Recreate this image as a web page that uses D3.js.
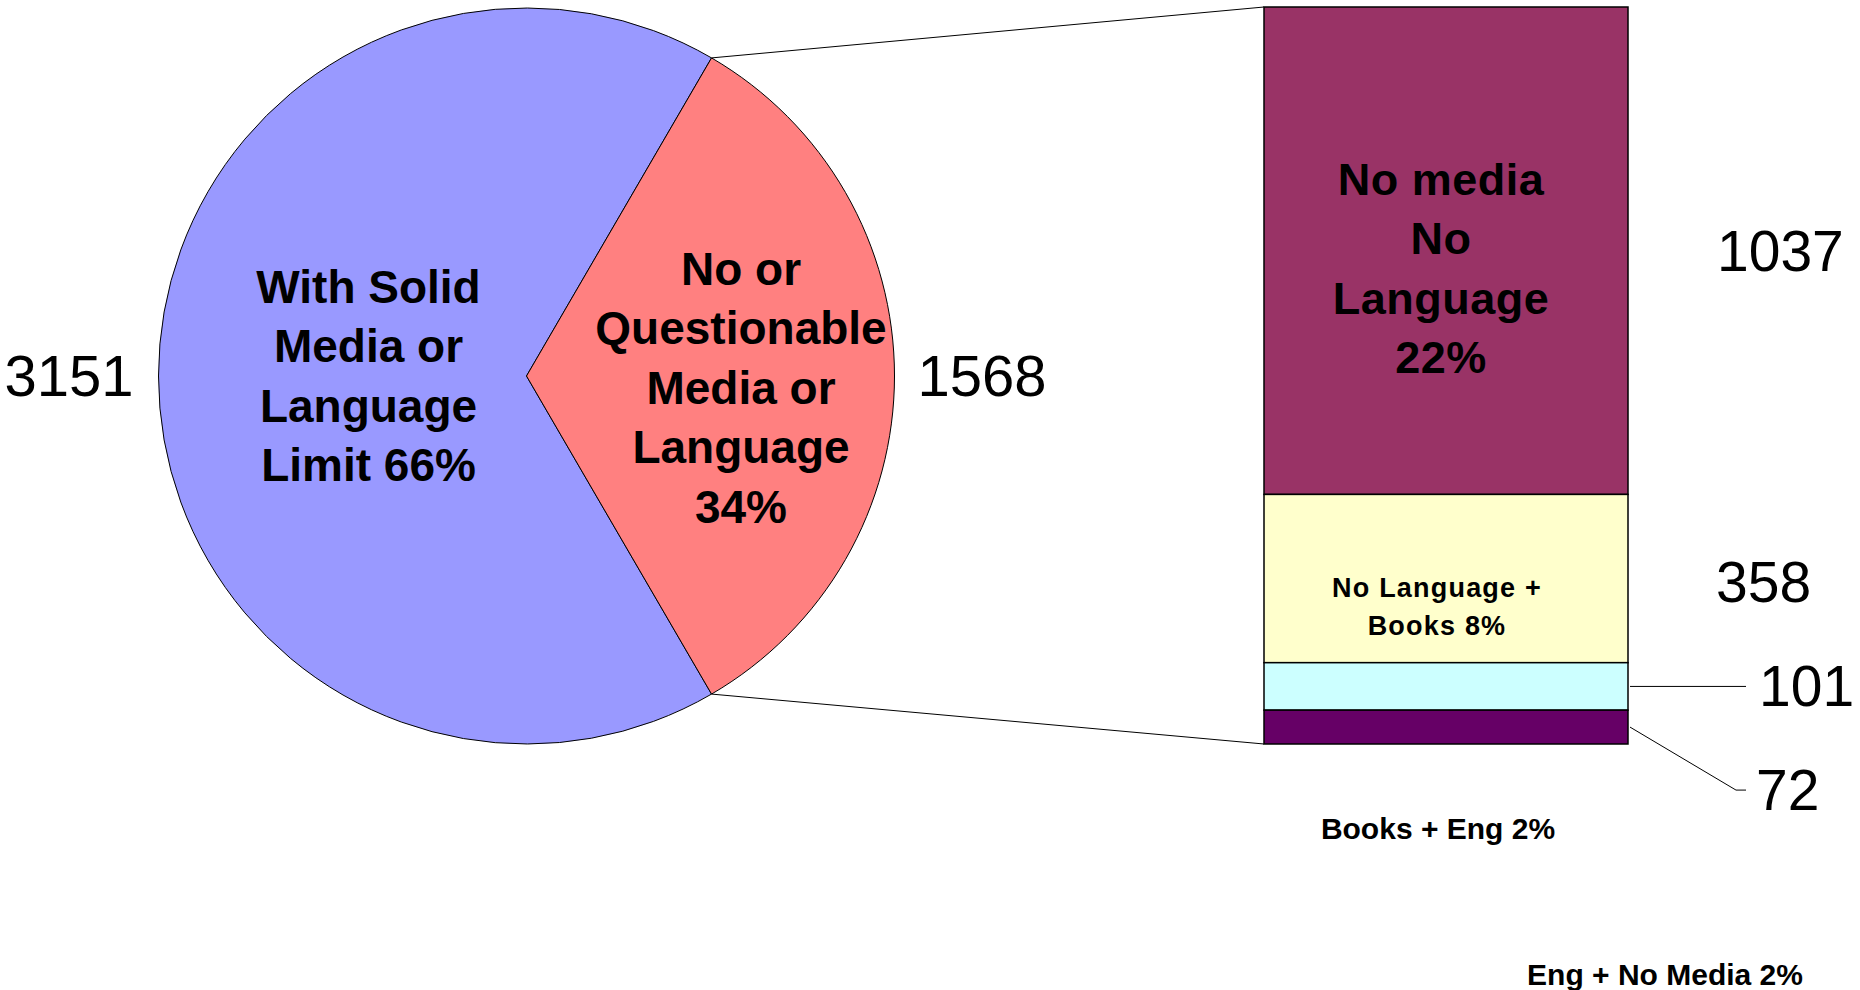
<!DOCTYPE html>
<html>
<head>
<meta charset="utf-8">
<script src="https://cdn.jsdelivr.net/npm/d3@7"></script>
<style>
  body { margin: 0; background: #fff; }
  svg text { font-family: "Liberation Sans", Arial, sans-serif; fill: #000; }
  .big { font-weight: bold; }
</style>
</head>
<body>
<svg id="chart"></svg>
<script>
const WIDTH = 1860;
const HEIGHT = 990;

// pie data
const pieNames = ["With Solid Media or Language Limit", "No or Questionable Media or Language"];
const pieValues = [3151, 1568];
const pieColors = ["#9999ff", "#ff8080"];
const pieLabelLines = [
  ["With Solid", "Media or", "Language", "Limit 66%"],
  ["No or", "Questionable", "Media or", "Language", "34%"]
];

// bar (breakdown of the red slice), top to bottom
const barNames = ["No media No Language", "No Language + Books", "Eng + No Media", "Books + Eng"];
const barValues = [1037, 358, 101, 72];
const barColors = ["#993366", "#ffffcc", "#ccffff", "#660066"];
const barLabelLines = [
  ["No media", "No", "Language", "22%"],
  ["No Language +", "Books 8%"],
  [],
  []
];
const outsideLabels = ["Books + Eng 2%", "Eng + No Media 2%"];

const svg = d3.select('#chart')
  .attr('width', WIDTH)
  .attr('height', HEIGHT);

// ---- pie ----
const cx = 526.5, cy = 376, R = 368;
const total = d3.sum(pieValues);
// put the small slice centred on 3 o'clock
const redMid = (total - pieValues[1] / 2) / total;
const a0 = Math.PI / 2 - 2 * Math.PI * redMid;

const pie = d3.pie().sort(null).startAngle(a0).endAngle(a0 + 2 * Math.PI);
const arcs = pie(pieValues);
const arc = d3.arc().innerRadius(0).outerRadius(R);

const pieG = svg.append('g').attr('transform', `translate(${cx},${cy})`);
pieG.selectAll('path')
  .data(arcs)
  .enter()
  .append('path')
  .attr('d', arc)
  .style('fill', (d, i) => pieColors[i])
  .style('stroke', '#000')
  .style('stroke-width', 1);

// slice labels
const pieLabelPos = [{x: -158, y: 0, lh: 59.5}, {x: 214.5, y: 11.5, lh: 59.5}];
pieLabelLines.forEach((lines, i) => {
  let p = pieLabelPos[i];
  let y0 = p.y - (lines.length - 1) * p.lh / 2;
  pieG.append('text')
    .attr('class', 'big')
    .style('font-size', '46px')
    .style('text-anchor', 'middle')
    .selectAll('tspan')
    .data(lines)
    .enter()
    .append('tspan')
    .attr('x', p.x)
    .attr('y', (d, k) => y0 + k * p.lh + 16)
    .text(d => d);
});

// value labels beside the pie
pieG.append('text')
  .attr('x', -R - 25).attr('y', 20)
  .style('font-size', '58px')
  .style('text-anchor', 'end')
  .text(pieValues[0]);
pieG.append('text')
  .attr('x', R + 23).attr('y', 20)
  .style('font-size', '58px')
  .style('text-anchor', 'start')
  .text(pieValues[1]);

// ---- bar of pie ----
const barX = 1264, barW = 364;
const barTotal = d3.sum(barValues);
const yScale = d3.scaleLinear().domain([0, barTotal]).range([7, 744]);

let cum = 0;
const segs = barValues.map((v, i) => {
  let s = {i: i, v: v, y0: cum, y1: cum + v};
  cum += v;
  return s;
});

// connector lines from the red slice to the bar
const red = arcs[1];
const pt = a => [cx + R * Math.sin(a), cy - R * Math.cos(a)];
const pTop = pt(red.startAngle), pBot = pt(red.endAngle);
svg.append('line')
  .attr('x1', pTop[0]).attr('y1', pTop[1])
  .attr('x2', barX).attr('y2', yScale(0))
  .style('stroke', '#000').style('stroke-width', 1);
svg.append('line')
  .attr('x1', pBot[0]).attr('y1', pBot[1])
  .attr('x2', barX).attr('y2', yScale(barTotal))
  .style('stroke', '#000').style('stroke-width', 1);

svg.append('g')
  .selectAll('rect')
  .data(segs)
  .enter()
  .append('rect')
  .attr('x', barX)
  .attr('width', barW)
  .attr('y', d => yScale(d.y0))
  .attr('height', d => yScale(d.y1) - yScale(d.y0))
  .style('fill', d => barColors[d.i])
  .style('stroke', '#000')
  .style('stroke-width', 1.5);

// labels inside bar
const barLabelStyle = [{fs: 45, lh: 59.5, dx: -5, dy: 17, ls: 0.5}, {fs: 27, lh: 38, dx: -9, dy: 28, ls: 1.2}];
barLabelStyle.forEach((st, i) => {
  let s = segs[i];
  let lines = barLabelLines[i];
  let mid = (yScale(s.y0) + yScale(s.y1)) / 2 + st.dy;
  let y0 = mid - (lines.length - 1) * st.lh / 2;
  svg.append('text')
    .attr('class', 'big')
    .style('font-size', st.fs + 'px')
    .style('letter-spacing', st.ls + 'px')
    .style('text-anchor', 'middle')
    .selectAll('tspan')
    .data(lines)
    .enter()
    .append('tspan')
    .attr('x', barX + barW / 2 + st.dx)
    .attr('y', (d, k) => y0 + k * st.lh + st.fs * 0.36)
    .text(d => d);
});

// value labels right of the bar
const valueX = [1717, 1716, 1759, 1756];
const valueDy = [0, 3, 0, 63];
segs.forEach(s => {
  let mid = (yScale(s.y0) + yScale(s.y1)) / 2;
  svg.append('text')
    .attr('x', valueX[s.i])
    .attr('y', mid + valueDy[s.i] + 20)
    .style('font-size', '57px')
    .text(s.v);
});

// leader lines for the two thin segments
let m2 = (yScale(segs[2].y0) + yScale(segs[2].y1)) / 2;
svg.append('path')
  .attr('d', d3.line()([[barX + barW + 2, m2], [1746, m2]]))
  .style('fill', 'none').style('stroke', '#000').style('stroke-width', 1);
let m3 = (yScale(segs[3].y0) + yScale(segs[3].y1)) / 2;
svg.append('path')
  .attr('d', d3.line()([[barX + barW + 2, m3], [1736, m3 + 63], [1746, m3 + 63]]))
  .style('fill', 'none').style('stroke', '#000').style('stroke-width', 1);

// category labels set apart below the bar
svg.append('text')
  .attr('class', 'big')
  .attr('x', 1438).attr('y', 839)
  .style('font-size', '30px')
  .style('text-anchor', 'middle')
  .text(outsideLabels[0]);
svg.append('text')
  .attr('class', 'big')
  .attr('x', 1665).attr('y', 985)
  .style('font-size', '30px')
  .style('text-anchor', 'middle')
  .text(outsideLabels[1]);
</script>
</body>
</html>
